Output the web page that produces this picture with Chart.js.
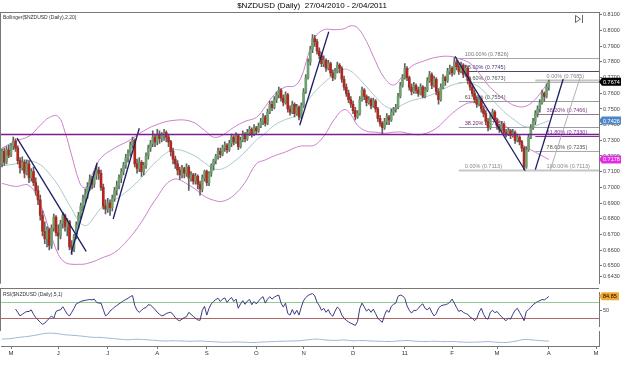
<!DOCTYPE html>
<html>
<head>
<meta charset="utf-8">
<script src="https://cdn.jsdelivr.net/npm/chart.js@4.4.0/dist/chart.umd.min.js"></script>
<style>
  body { margin: 0; background: #fff; width: 625px; height: 365px; position: relative; overflow: hidden; }
  canvas { position: absolute; left: 0; }
</style>
</head>
<body>
<canvas id="main" width="625" height="288" style="top:0px"></canvas>
<canvas id="rsi" width="625" height="43" style="top:288px"></canvas>
<canvas id="atr" width="625" height="34" style="top:331px"></canvas>
<script>
// daily candles, 27/04/2010 .. 1/04/2011 (index = trading day)
const openP = [
  0.7150,0.7230,0.7160,0.7240,0.7205,0.7265,0.7295,0.7250,0.7170,0.7125,
  0.7160,0.7090,0.7150,0.7060,0.7100,0.7030,0.6980,0.6920,0.6820,0.6720,
  0.6670,0.6730,0.6630,0.6740,0.6810,0.6710,0.6690,0.6770,0.6820,0.6750,
  0.6780,0.6620,0.6610,0.6690,0.6760,0.6820,0.6880,0.6930,0.6960,0.7000,
  0.7050,0.7020,0.7080,0.7110,0.7090,0.7000,0.6880,0.6860,0.6900,0.6870,
  0.6930,0.6980,0.7010,0.7060,0.7100,0.7140,0.7190,0.7220,0.7270,0.7300,
  0.7150,0.7120,0.7160,0.7100,0.7140,0.7200,0.7250,0.7280,0.7320,0.7290,
  0.7340,0.7310,0.7330,0.7350,0.7320,0.7290,0.7230,0.7180,0.7150,0.7110,
  0.7080,0.7120,0.7090,0.7130,0.7060,0.7080,0.7040,0.7070,0.7020,0.6990,
  0.7060,0.7100,0.7030,0.7090,0.7140,0.7170,0.7200,0.7230,0.7210,0.7250,
  0.7270,0.7240,0.7280,0.7320,0.7290,0.7330,0.7260,0.7300,0.7340,0.7310,
  0.7350,0.7370,0.7340,0.7380,0.7360,0.7390,0.7420,0.7450,0.7410,0.7480,
  0.7530,0.7510,0.7560,0.7590,0.7620,0.7570,0.7540,0.7590,0.7500,0.7480,
  0.7530,0.7470,0.7510,0.7450,0.7520,0.7610,0.7700,0.7800,0.7880,0.7950,
  0.7930,0.7870,0.7840,0.7790,0.7810,0.7760,0.7790,0.7730,0.7700,0.7740,
  0.7780,0.7760,0.7690,0.7640,0.7600,0.7560,0.7530,0.7490,0.7450,0.7470,
  0.7560,0.7620,0.7580,0.7540,0.7560,0.7520,0.7550,0.7500,0.7440,0.7410,
  0.7380,0.7420,0.7450,0.7430,0.7480,0.7500,0.7510,0.7580,0.7650,0.7700,
  0.7760,0.7700,0.7640,0.7610,0.7650,0.7620,0.7600,0.7640,0.7580,0.7620,
  0.7680,0.7720,0.7650,0.7690,0.7610,0.7560,0.7640,0.7700,0.7680,0.7740,
  0.7760,0.7730,0.7800,0.7770,0.7740,0.7780,0.7720,0.7760,0.7680,0.7640,
  0.7600,0.7560,0.7530,0.7560,0.7500,0.7470,0.7420,0.7380,0.7450,0.7480,
  0.7430,0.7390,0.7370,0.7400,0.7350,0.7340,0.7360,0.7330,0.7350,0.7300,
  0.7320,0.7290,0.7250,0.7130,0.7240,0.7320,0.7380,0.7420,0.7470,0.7500,
  0.7540,0.7600,0.7580,0.7640
];
const highP = [
  0.7245,0.7250,0.7260,0.7270,0.7280,0.7320,0.7310,0.7265,0.7190,0.7195,
  0.7175,0.7175,0.7170,0.7120,0.7130,0.7060,0.7010,0.6950,0.6850,0.6780,
  0.6750,0.6740,0.6760,0.6830,0.6820,0.6760,0.6790,0.6840,0.6830,0.6800,
  0.6790,0.6660,0.6700,0.6780,0.6840,0.6900,0.6950,0.6990,0.7030,0.7080,
  0.7070,0.7100,0.7140,0.7130,0.7110,0.7020,0.6920,0.6930,0.6920,0.6950,
  0.7000,0.7040,0.7080,0.7120,0.7160,0.7210,0.7240,0.7290,0.7320,0.7310,
  0.7180,0.7190,0.7170,0.7160,0.7220,0.7270,0.7300,0.7360,0.7340,0.7370,
  0.7360,0.7350,0.7370,0.7360,0.7340,0.7300,0.7250,0.7200,0.7170,0.7130,
  0.7140,0.7130,0.7150,0.7140,0.7100,0.7090,0.7090,0.7080,0.7040,0.7080,
  0.7110,0.7110,0.7100,0.7150,0.7180,0.7210,0.7250,0.7250,0.7270,0.7290,
  0.7280,0.7300,0.7340,0.7330,0.7350,0.7340,0.7320,0.7360,0.7350,0.7370,
  0.7390,0.7380,0.7400,0.7390,0.7410,0.7440,0.7470,0.7460,0.7500,0.7550,
  0.7550,0.7580,0.7610,0.7640,0.7630,0.7590,0.7610,0.7600,0.7520,0.7550,
  0.7540,0.7530,0.7520,0.7540,0.7630,0.7720,0.7820,0.7900,0.7975,0.7970,
  0.7945,0.7890,0.7860,0.7840,0.7820,0.7810,0.7800,0.7750,0.7760,0.7800,
  0.7790,0.7770,0.7710,0.7660,0.7620,0.7580,0.7550,0.7510,0.7490,0.7580,
  0.7640,0.7630,0.7590,0.7580,0.7570,0.7570,0.7560,0.7510,0.7460,0.7420,
  0.7440,0.7470,0.7460,0.7500,0.7510,0.7530,0.7600,0.7670,0.7720,0.7790,
  0.7770,0.7710,0.7660,0.7670,0.7660,0.7640,0.7660,0.7650,0.7640,0.7700,
  0.7740,0.7730,0.7710,0.7700,0.7630,0.7660,0.7720,0.7710,0.7760,0.7780,
  0.7770,0.7826,0.7810,0.7790,0.7800,0.7790,0.7780,0.7770,0.7700,0.7660,
  0.7620,0.7580,0.7580,0.7570,0.7520,0.7490,0.7440,0.7470,0.7500,0.7490,
  0.7440,0.7400,0.7420,0.7410,0.7370,0.7380,0.7370,0.7370,0.7360,0.7340,
  0.7330,0.7300,0.7260,0.7260,0.7340,0.7400,0.7440,0.7490,0.7520,0.7560,
  0.7620,0.7610,0.7660,0.7685
];
const lowP = [
  0.7130,0.7140,0.7150,0.7190,0.7195,0.7240,0.7230,0.7150,0.7090,0.7110,
  0.7060,0.7080,0.7030,0.7040,0.7010,0.6950,0.6890,0.6790,0.6690,0.6640,
  0.6620,0.6600,0.6610,0.6720,0.6690,0.6600,0.6670,0.6740,0.6720,0.6690,
  0.6600,0.6570,0.6590,0.6670,0.6740,0.6800,0.6850,0.6900,0.6930,0.6980,
  0.6990,0.7000,0.7050,0.7050,0.6980,0.6860,0.6830,0.6840,0.6820,0.6850,
  0.6910,0.6950,0.6990,0.7030,0.7080,0.7120,0.7160,0.7200,0.7250,0.7130,
  0.7090,0.7100,0.7070,0.7080,0.7120,0.7180,0.7230,0.7260,0.7260,0.7270,
  0.7280,0.7290,0.7300,0.7290,0.7260,0.7200,0.7150,0.7120,0.7080,0.7050,
  0.7060,0.7060,0.7070,0.6980,0.7040,0.7020,0.7020,0.6990,0.6950,0.6970,
  0.7040,0.7010,0.7010,0.7070,0.7110,0.7150,0.7180,0.7190,0.7200,0.7230,
  0.7220,0.7230,0.7260,0.7270,0.7280,0.7240,0.7250,0.7290,0.7290,0.7300,
  0.7330,0.7320,0.7330,0.7340,0.7350,0.7380,0.7400,0.7390,0.7400,0.7470,
  0.7490,0.7500,0.7540,0.7570,0.7550,0.7520,0.7530,0.7480,0.7460,0.7470,
  0.7450,0.7460,0.7430,0.7440,0.7510,0.7600,0.7690,0.7780,0.7860,0.7900,
  0.7850,0.7820,0.7770,0.7770,0.7740,0.7750,0.7710,0.7680,0.7690,0.7730,
  0.7730,0.7670,0.7620,0.7580,0.7540,0.7510,0.7470,0.7430,0.7440,0.7460,
  0.7550,0.7560,0.7520,0.7530,0.7500,0.7510,0.7480,0.7420,0.7390,0.7340,
  0.7370,0.7400,0.7400,0.7420,0.7460,0.7480,0.7500,0.7570,0.7640,0.7690,
  0.7680,0.7620,0.7590,0.7600,0.7600,0.7580,0.7590,0.7570,0.7570,0.7610,
  0.7670,0.7630,0.7640,0.7590,0.7530,0.7550,0.7630,0.7650,0.7670,0.7720,
  0.7710,0.7720,0.7750,0.7720,0.7730,0.7700,0.7710,0.7660,0.7620,0.7580,
  0.7540,0.7510,0.7520,0.7480,0.7450,0.7400,0.7360,0.7370,0.7440,0.7420,
  0.7370,0.7350,0.7360,0.7330,0.7320,0.7330,0.7310,0.7320,0.7280,0.7290,
  0.7270,0.7230,0.7113,0.7120,0.7230,0.7310,0.7370,0.7400,0.7450,0.7480,
  0.7530,0.7550,0.7570,0.7620
];
const closeP = [
  0.7230,0.7160,0.7240,0.7205,0.7265,0.7295,0.7250,0.7170,0.7125,0.7160,
  0.7090,0.7150,0.7060,0.7100,0.7030,0.6980,0.6920,0.6820,0.6720,0.6670,
  0.6730,0.6630,0.6740,0.6810,0.6710,0.6690,0.6770,0.6820,0.6750,0.6780,
  0.6620,0.6610,0.6690,0.6760,0.6820,0.6880,0.6930,0.6960,0.7000,0.7050,
  0.7020,0.7080,0.7110,0.7090,0.7000,0.6880,0.6860,0.6900,0.6870,0.6930,
  0.6980,0.7010,0.7060,0.7100,0.7140,0.7190,0.7220,0.7270,0.7300,0.7150,
  0.7120,0.7160,0.7100,0.7140,0.7200,0.7250,0.7280,0.7320,0.7290,0.7340,
  0.7310,0.7330,0.7350,0.7320,0.7290,0.7230,0.7180,0.7150,0.7110,0.7080,
  0.7120,0.7090,0.7130,0.7060,0.7080,0.7040,0.7070,0.7020,0.6990,0.7060,
  0.7100,0.7030,0.7090,0.7140,0.7170,0.7200,0.7230,0.7210,0.7250,0.7270,
  0.7240,0.7280,0.7320,0.7290,0.7330,0.7260,0.7300,0.7340,0.7310,0.7350,
  0.7370,0.7340,0.7380,0.7360,0.7390,0.7420,0.7450,0.7410,0.7480,0.7530,
  0.7510,0.7560,0.7590,0.7620,0.7570,0.7540,0.7590,0.7500,0.7480,0.7530,
  0.7470,0.7510,0.7450,0.7520,0.7610,0.7700,0.7800,0.7880,0.7950,0.7930,
  0.7870,0.7840,0.7790,0.7810,0.7760,0.7790,0.7730,0.7700,0.7740,0.7780,
  0.7760,0.7690,0.7640,0.7600,0.7560,0.7530,0.7490,0.7450,0.7470,0.7560,
  0.7620,0.7580,0.7540,0.7560,0.7520,0.7550,0.7500,0.7440,0.7410,0.7380,
  0.7420,0.7450,0.7430,0.7480,0.7500,0.7510,0.7580,0.7650,0.7700,0.7760,
  0.7700,0.7640,0.7610,0.7650,0.7620,0.7600,0.7640,0.7580,0.7620,0.7680,
  0.7720,0.7650,0.7690,0.7610,0.7560,0.7640,0.7700,0.7680,0.7740,0.7760,
  0.7730,0.7800,0.7770,0.7740,0.7780,0.7720,0.7760,0.7680,0.7640,0.7600,
  0.7560,0.7530,0.7560,0.7500,0.7470,0.7420,0.7380,0.7450,0.7480,0.7430,
  0.7390,0.7370,0.7400,0.7350,0.7340,0.7360,0.7330,0.7350,0.7300,0.7320,
  0.7290,0.7250,0.7130,0.7240,0.7320,0.7380,0.7420,0.7470,0.7500,0.7540,
  0.7600,0.7580,0.7640,0.7674
];

// Bollinger(20,2) at sample days
const bbDays = [0,6,12,17,21,25,28,31,34,36,38,41,44,50,56,62,68,76,84,90,94,98,103,108,113,117,121,126,130,133,
  136,139,143,148,152,155,158,162,166,170,174,178,182,187,193,199,204,208,212,216,220,224,228,232,236,240,243];
const bbUpper = [0.7251,0.7295,0.7326,0.7396,0.7446,0.7452,0.7352,0.7201,0.7050,0.6999,
  0.7012,0.7113,0.7188,0.7251,0.7295,0.7352,0.7396,0.7427,0.7421,0.7364,
  0.7320,0.7333,0.7383,0.7421,0.7446,0.7515,0.7591,0.7641,0.7647,0.7704,
  0.7842,0.7955,0.8006,0.8006,0.8012,0.8031,0.8018,0.7930,0.7804,0.7697,
  0.7653,0.7710,0.7773,0.7804,0.7830,0.7836,0.7817,0.7792,0.7729,0.7653,
  0.7597,0.7553,0.7521,0.7515,0.7547,0.7616,0.7674];
const bbMid = [0.7138,0.7150,0.7169,0.7144,0.7087,0.7012,0.6936,0.6861,0.6786,0.6760,
  0.6760,0.6811,0.6867,0.6918,0.6981,0.7062,0.7157,0.7238,0.7213,0.7157,
  0.7119,0.7119,0.7163,0.7226,0.7301,0.7345,0.7396,0.7433,0.7452,0.7484,
  0.7553,0.7609,0.7666,0.7723,0.7754,0.7742,0.7704,0.7641,0.7578,0.7521,
  0.7503,0.7528,0.7553,0.7572,0.7603,0.7647,0.7666,0.7666,0.7641,0.7584,
  0.7528,0.7471,0.7427,0.7389,0.7389,0.7408,0.7426];
const bbLower = [0.7025,0.7006,0.7012,0.6892,0.6729,0.6572,0.6521,0.6509,0.6509,0.6509,
  0.6515,0.6528,0.6547,0.6584,0.6666,0.6779,0.6918,0.7050,0.7006,0.6943,
  0.6918,0.6911,0.6949,0.7031,0.7150,0.7175,0.7201,0.7226,0.7251,0.7264,
  0.7264,0.7270,0.7326,0.7440,0.7496,0.7465,0.7396,0.7358,0.7352,0.7345,
  0.7352,0.7352,0.7339,0.7339,0.7377,0.7458,0.7515,0.7540,0.7530,0.7490,
  0.7440,0.7389,0.7333,0.7264,0.7232,0.7201,0.7178];

// RSI(5,1)
const rsiVals = [null,null,null,null,null,null,53,45,36,40,
  44,47,47,51,40,32,26,20,15,18, 24,30,36,30,47,50,51,59,50,40,
  36,45,55,66,69,72,74,75,76,77, 76,78,70,68,68,52,36,40,48,53,
  58,62,66,70,74,77,80,84,87,62, 50,45,50,55,57,64,63,58,52,45,
  40,36,38,42,44,45,40,32,26,24, 28,32,34,45,40,35,30,26,25,50,
  60,38,55,66,72,77,80,72,78,81, 70,77,82,72,78,55,66,74,65,73,
  77,64,72,66,73,80,84,68,78,84, 78,83,86,88,68,58,68,42,38,52,
  40,50,38,58,74,82,87,90,92,86, 70,62,50,55,45,52,40,35,48,58,
  53,38,30,25,21,18,15,12,22,55, 68,58,48,53,45,53,42,30,25,20,
  38,50,45,60,65,68,85,88,86,80, 61,50,43,50,49,55,62,66,55,51,
  57,45,36,42,55,61,63,64,66,70, 78,68,57,47,50,45,42,40,33,30,
  24,30,45,55,40,30,28,45,50,44, 47,40,34,28,24,30,28,40,50,55,
  45,35,24,47,52,57,64,68,72,74, 77,76,80,84.85];
const rsiLevels = [70, 30];

// ATR(2) sampled every 4 days
const atrDays = [0,4,8,12,16,20,24,28,32,36,40,44,48,52,56,60,64,68,72,76,80,84,88,92,96,100,104,108,112,116,
  120,124,128,132,136,140,144,148,152,156,160,164,168,172,176,180,184,188,192,196,200,204,208,212,216,220,224,228,232,236,240,243];
const atrVals = [0.0105,0.0110,0.0120,0.0128,0.0140,0.0152,0.0150,0.0140,0.0135,0.0128,
  0.0120,0.0118,0.0112,0.0105,0.0100,0.0104,0.0100,0.0095,0.0090,0.0092,
  0.0090,0.0088,0.0090,0.0086,0.0082,0.0080,0.0082,0.0080,0.0078,0.0082,
  0.0085,0.0088,0.0090,0.0092,0.0100,0.0105,0.0098,0.0095,0.0098,0.0092,
  0.0094,0.0090,0.0088,0.0086,0.0090,0.0094,0.0088,0.0086,0.0088,0.0085,
  0.0086,0.0082,0.0080,0.0082,0.0085,0.0080,0.0078,0.0088,0.0102,0.0098,
  0.0092,0.00893];

// month ticks
const monthDays = [4, 25, 47, 69, 91, 113, 134, 156, 179, 200, 220, 243, 264];
const monthLbl = ['M','J','J','A','S','O','N','D','11','F','M','A','M'];
const priceTicks = [0.81,0.80,0.79,0.78,0.77,0.76,0.75,0.74,0.73,0.72,0.71,0.70,0.69,0.68,0.67,0.66,0.65,0.643];

// drawn tools: trend lines [day, price, day, price]
const trendLines = [
  [6.7, 0.7314, 37.4, 0.6591],
  [30.7, 0.6578, 42.3, 0.7157],
  [49.4, 0.6798, 61.0, 0.7377],
  [132.3, 0.7396, 145.2, 0.7993],
  [201.3, 0.7836, 232.5, 0.7106],
  [237.0, 0.7113, 249.4, 0.7691]
];
const fibDiag = [243.7, 0.7113, 257.0, 0.7704];
const fib1Lbl = ['100.00%','88.60%','78.60%','61.80%','38.20%','0.00%'];
const fib1Val = [0.7826,0.7745,0.7673,0.7554,0.7385,0.7113];
const fib1From = 203;
const fib2Lbl = ['0.00%','38.20%','61.80%','78.60%','100.00%'];
const fib2Val = [0.7685,0.7466,0.7330,0.7235,0.7113];
const fib2From = 237;
const supportLine = 0.7340;

const FONT = '"Liberation Sans", Arial, sans-serif';
Chart.defaults.font.family = FONT;
const xMin = -0.45, xMax = 265.3;
const fixW = s => { s.width = 26; };

function tag(ctx, x, y, text, bg, fg, w) {
  ctx.save();
  ctx.fillStyle = bg;
  ctx.beginPath();
  ctx.moveTo(x, y);
  ctx.lineTo(x + 3, y - 4);
  ctx.lineTo(x + w, y - 4);
  ctx.lineTo(x + w, y + 4);
  ctx.lineTo(x + 3, y + 4);
  ctx.closePath();
  ctx.fill();
  ctx.fillStyle = fg;
  ctx.font = '5.5px ' + FONT;
  ctx.textBaseline = 'middle';
  ctx.fillText(text, x + 4, y + 0.5);
  ctx.restore();
}

function hline(ctx, x1, x2, y, color, w) {
  ctx.strokeStyle = color;
  ctx.lineWidth = w;
  ctx.beginPath();
  ctx.moveTo(x1, y);
  ctx.lineTo(x2, y);
  ctx.stroke();
}

const fib1Line = ['#a8a8a8','#4a4a6a','#b4b4b4','#9a9aa8','#9a9aa8','#c8c8c8'];
const fib1Txt = ['#777','#4a3a70','#555','#555','#6a2a6a','#888'];
const fib2Line = ['#c4c4c4','#a070a0','#8030a0','#a8a8a8','#c4c4c4'];
const fib2Txt = ['#888','#7a3a7a','#8030a0','#555','#888'];

const mainOverlay = {
  id: 'mainOverlay',
  beforeDatasetsDraw(chart) {
    const { ctx, chartArea: a, scales: { x, y } } = chart;
    ctx.save();
    ctx.font = '5.5px ' + FONT;
    ctx.textBaseline = 'bottom';
    fib1Val.forEach((v, i) => {
      const py = Math.round(y.getPixelForValue(v)) + 0.5;
      const px = x.getPixelForValue(fib1From);
      hline(ctx, px, a.right, py, fib1Line[i], i === 5 ? 2 : 1);
      ctx.fillStyle = fib1Txt[i];
      ctx.fillText(fib1Lbl[i] + ' (' + v.toFixed(4) + ')', px + 6, py - 1);
    });
    fib2Val.forEach((v, i) => {
      const py = Math.round(y.getPixelForValue(v)) + 0.5;
      const px = x.getPixelForValue(fib2From);
      hline(ctx, px, a.right, py, fib2Line[i], i === 0 ? 2 : 1);
      ctx.fillStyle = fib2Txt[i];
      ctx.fillText(fib2Lbl[i] + ' (' + v.toFixed(4) + ')', x.getPixelForValue(fib2From + 5), py - 1);
    });
    ctx.restore();
  },
  afterDatasetsDraw(chart) {
    const { ctx, chartArea: a, scales: { y } } = chart;
    ctx.save();
    hline(ctx, 0, a.right, Math.round(y.getPixelForValue(supportLine)) + 0.5, '#7a1f8a', 1.4);
    ctx.restore();
  },
  afterDraw(chart) {
    const { ctx, chartArea: a, scales: { y } } = chart;
    ctx.save();
    ctx.fillStyle = '#000';
    ctx.font = '8px ' + FONT;
    ctx.textAlign = 'center';
    ctx.textBaseline = 'middle';
    ctx.fillText('$NZDUSD (Daily)  27/04/2010 - 2/04/2011', 312, 6);
    ctx.textAlign = 'left';
    ctx.font = '5px ' + FONT;
    ctx.fillStyle = '#333';
    ctx.fillText('Bollinger($NZDUSD (Daily),2,20)', 3, a.top + 6);
    ctx.strokeStyle = '#777';
    ctx.lineWidth = 1;
    hline(ctx, 0, a.right, a.top + 0.5, '#777', 1);
    ctx.beginPath(); ctx.moveTo(0.5, a.top); ctx.lineTo(0.5, a.bottom); ctx.stroke();
    // play-to-end icon
    ctx.strokeStyle = '#666';
    ctx.beginPath();
    ctx.moveTo(575.5, a.top + 3.5); ctx.lineTo(580.5, a.top + 7); ctx.lineTo(575.5, a.top + 10.5); ctx.closePath();
    ctx.moveTo(582.5, a.top + 3); ctx.lineTo(582.5, a.top + 11);
    ctx.stroke();
    const last = closeP.length - 1;
    tag(ctx, a.right, y.getPixelForValue(closeP[last]), closeP[last].toFixed(4), '#000', '#fff', 22);
    tag(ctx, a.right, y.getPixelForValue(bbMid[bbMid.length - 1]), bbMid[bbMid.length - 1].toFixed(4), '#4f86c6', '#fff', 22);
    tag(ctx, a.right, y.getPixelForValue(bbLower[bbLower.length - 1]), bbLower[bbLower.length - 1].toFixed(4), '#e02ee0', '#fff', 22);
    ctx.restore();
  }
};

const wickData = closeP.map((c, i) => ({ x: i, y: [lowP[i], highP[i]] }));
const bodyData = closeP.map((c, i) => ({ x: i, y: [openP[i], c] }));
const bodyCol = closeP.map((c, i) => c >= openP[i] ? '#6fa06f' : '#b3261e');

const bandSet = (vals, color) => ({
  type: 'line',
  data: bbDays.map((d, i) => ({ x: d, y: vals[i] })),
  borderColor: color, borderWidth: 1, pointRadius: 0, tension: 0.4, order: 6
});

const trendSets = trendLines.map(t => ({
  type: 'line',
  data: [{ x: t[0], y: t[1] }, { x: t[2], y: t[3] }],
  borderColor: '#1c1c66', borderWidth: 1.3, pointRadius: 0, order: 0
}));
trendSets.push({
  type: 'line',
  data: [{ x: fibDiag[0], y: fibDiag[1] }, { x: fibDiag[2], y: fibDiag[3] }],
  borderColor: '#b0b0b0', borderWidth: 1, pointRadius: 0, order: 1
});

new Chart(document.getElementById('main'), {
  type: 'bar',
  data: {
    datasets: [
      bandSet(bbUpper, '#cc80cc'),
      bandSet(bbMid, '#a8c8c8'),
      bandSet(bbLower, '#cc80cc'),
      { type: 'bar', data: wickData, backgroundColor: '#606060', barThickness: 1, grouped: false, order: 4 },
      { type: 'bar', data: bodyData, backgroundColor: bodyCol, barThickness: 2, grouped: false, order: 3 },
      ...trendSets
    ]
  },
  options: {
    responsive: false, animation: false, events: [], devicePixelRatio: 1,
    layout: { padding: { top: 12, left: 1, right: 0, bottom: 0 } },
    plugins: { legend: { display: false }, tooltip: { enabled: false } },
    scales: {
      x: { type: 'linear', min: xMin, max: xMax, offset: false, display: false },
      y: {
        position: 'right', min: 0.6385, max: 0.8119,
        afterBuildTicks: s => { s.ticks = priceTicks.map(v => ({ value: v })); },
        afterFit: fixW,
        ticks: { autoSkip: false, font: { size: 5.5 }, color: '#444', padding: 1, callback: v => v.toFixed(4) },
        grid: { drawOnChartArea: false, tickLength: 3, color: '#777' },
        border: { color: '#777' }
      }
    }
  },
  plugins: [mainOverlay]
});

const rsiOverlay = {
  id: 'rsiOverlay',
  beforeDatasetsDraw(chart) {
    const { ctx, chartArea: a, scales: { y } } = chart;
    ctx.save();
    hline(ctx, a.left, a.right, Math.round(y.getPixelForValue(rsiLevels[0])) + 0.5, '#96c896', 1);
    hline(ctx, a.left, a.right, Math.round(y.getPixelForValue(rsiLevels[1])) + 0.5, '#b06868', 1);
    ctx.restore();
  },
  afterDraw(chart) {
    const { ctx, chartArea: a, scales: { y } } = chart;
    ctx.save();
    hline(ctx, 0, a.right, 0.5, '#777', 1);
    ctx.strokeStyle = '#777';
    ctx.beginPath(); ctx.moveTo(0.5, 0); ctx.lineTo(0.5, 43); ctx.stroke();
    ctx.fillStyle = '#333';
    ctx.font = '5px ' + FONT;
    ctx.textBaseline = 'middle';
    ctx.fillText('RSI($NZDUSD (Daily),5,1)', 3, 7);
    const v = rsiVals[rsiVals.length - 1];
    tag(ctx, a.right, y.getPixelForValue(v), v.toFixed(2), '#f0a830', '#000', 20);
    ctx.restore();
  }
};

new Chart(document.getElementById('rsi'), {
  type: 'line',
  data: { datasets: [{
    data: rsiVals.map((v, i) => ({ x: i, y: v })),
    borderColor: '#3b3b80', borderWidth: 1, pointRadius: 0, tension: 0
  }] },
  options: {
    responsive: false, animation: false, events: [], devicePixelRatio: 1,
    layout: { padding: { top: 0, left: 1, right: 0, bottom: 0 } },
    plugins: { legend: { display: false }, tooltip: { enabled: false } },
    scales: {
      x: { type: 'linear', min: xMin, max: xMax, offset: false, display: false },
      y: {
        position: 'right', min: 9, max: 95,
        afterBuildTicks: s => { s.ticks = [{ value: 50 }]; },
        afterFit: fixW,
        ticks: { font: { size: 5.5 }, color: '#444', padding: 1 },
        grid: { drawOnChartArea: false, tickLength: 3, color: '#777' },
        border: { color: '#777' }
      }
    }
  },
  plugins: [rsiOverlay]
});

const atrOverlay = {
  id: 'atrOverlay',
  afterDraw(chart) {
    const { ctx, chartArea: a, scales: { y } } = chart;
    ctx.save();
    hline(ctx, 0, a.right, 0.5, '#777', 1);
    hline(ctx, 0, 625, 31.5, '#777', 1);
    ctx.strokeStyle = '#777';
    ctx.beginPath(); ctx.moveTo(0.5, 0); ctx.lineTo(0.5, 32); ctx.stroke();
    ctx.fillStyle = '#333';
    ctx.font = '5px ' + FONT;
    ctx.textBaseline = 'middle';
    ctx.fillText('ATR($NZDUSD (Daily),2)', 3, 6);
    ctx.fillText('\u00a9 2011 ReliaTrader, LLC', 3, 11);
    const v = atrVals[atrVals.length - 1];
    tag(ctx, a.right, y.getPixelForValue(v), v.toFixed(5), '#3460c0', '#fff', 24);
    ctx.restore();
  }
};

new Chart(document.getElementById('atr'), {
  type: 'line',
  data: { datasets: [{
    data: atrDays.map((d, i) => ({ x: d, y: atrVals[i] })),
    borderColor: '#9fb2d6', borderWidth: 1, pointRadius: 0, tension: 0.4
  }] },
  options: {
    responsive: false, animation: false, events: [], devicePixelRatio: 1,
    layout: { padding: { top: 0, left: 1, right: 0, bottom: 0 } },
    plugins: { legend: { display: false }, tooltip: { enabled: false } },
    scales: {
      x: {
        type: 'linear', min: xMin, max: xMax, offset: false,
        afterBuildTicks: s => { s.ticks = monthDays.map(v => ({ value: v })); },
        afterFit: s => { s.height = 19; },
        ticks: { autoSkip: false, maxRotation: 0, font: { size: 6 }, color: '#333', padding: 1,
          callback: (v, i) => monthLbl[i] },
        grid: { drawOnChartArea: false, tickLength: 3, color: '#777' },
        border: { color: '#777' }
      },
      y: {
        position: 'right', min: 0.005, max: 0.017,
        afterFit: fixW,
        ticks: { display: false },
        grid: { display: false },
        border: { color: '#777' }
      }
    }
  }
});
</script>
</body>
</html>
